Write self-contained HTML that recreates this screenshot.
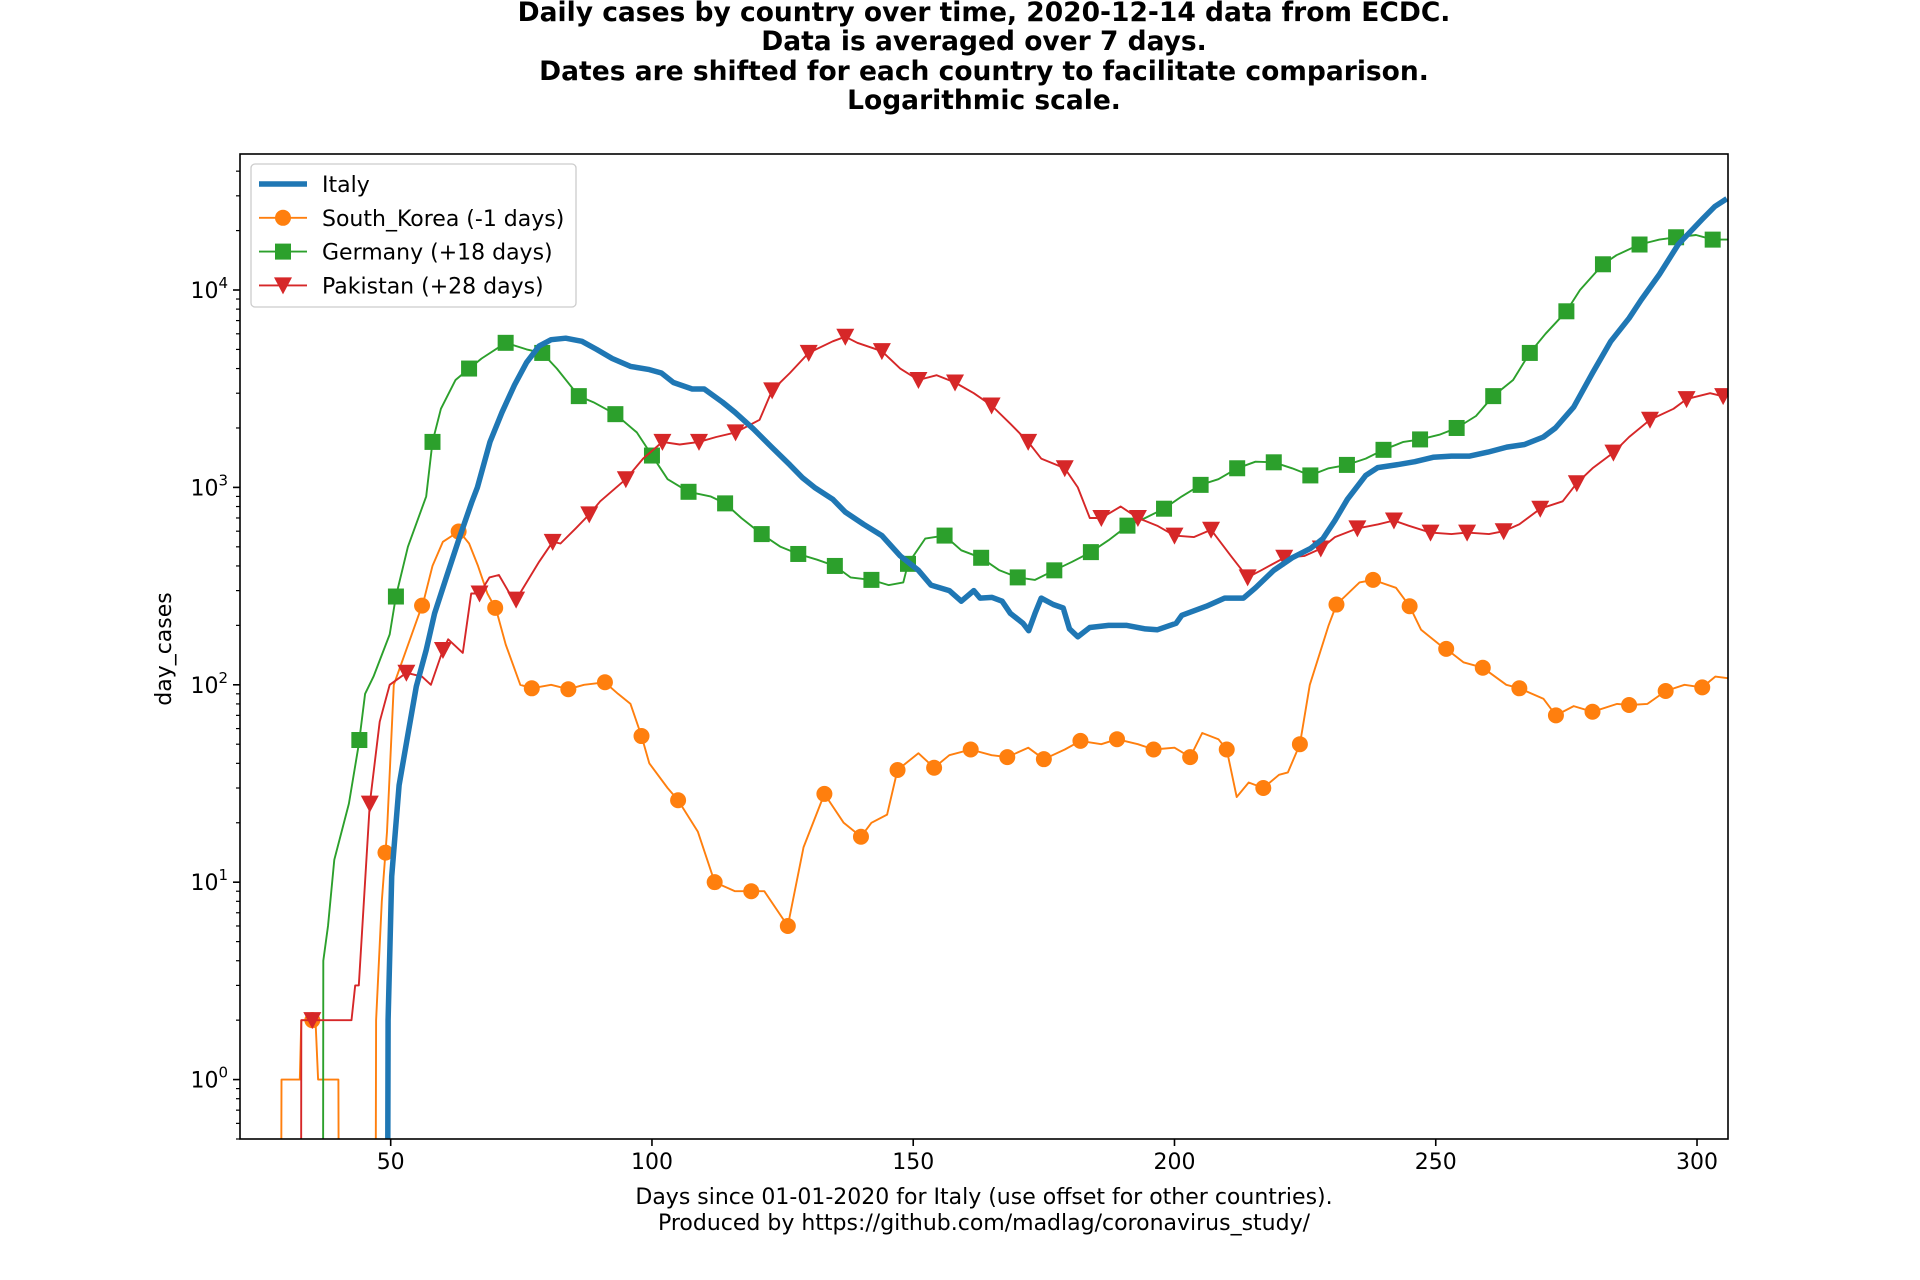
<!DOCTYPE html>
<html><head><meta charset="utf-8"><style>
html,body{margin:0;padding:0;background:#fff;overflow:hidden;width:1920px;height:1280px;}
svg{display:block;font-family:"DejaVu Sans","Liberation Sans",sans-serif;}
</style></head><body>
<svg id="chart" width="1920" height="1280" viewBox="0 0 1920 1280" xmlns="http://www.w3.org/2000/svg">
<rect width="1920" height="1280" fill="#fff"/>
<g font-weight="bold" font-size="26.5" text-anchor="middle" fill="#000">
<text x="984" y="21">Daily cases by country over time, 2020-12-14 data from ECDC.</text>
<text x="984" y="50">Data is averaged over 7 days.</text>
<text x="984" y="80">Dates are shifted for each country to facilitate comparison.</text>
<text x="984" y="109">Logarithmic scale.</text>
</g>
<defs><clipPath id="clip"><rect x="240" y="154" width="1488" height="985"/></clipPath></defs>
<g id="series" clip-path="url(#clip)"></g>
<g id="axes"></g>
<rect x="240" y="154" width="1488" height="985" fill="none" stroke="#000" stroke-width="1.6"/>
<g font-size="22" text-anchor="middle">
<text x="984" y="1204">Days since 01-01-2020 for Italy (use offset for other countries).</text>
<text x="984" y="1230">Produced by https://github.com/madlag/coronavirus_study/</text>
</g>
<text font-size="22" text-anchor="middle" transform="translate(171,649) rotate(-90)">day_cases</text>
<g id="legend">
<rect x="251" y="164" width="325" height="143" rx="4" fill="#fff" fill-opacity="0.8" stroke="#ccc" stroke-width="1.3"/>
</g>
</svg>
<script>
const xTicks = [50, 100, 150, 200, 250, 300];
const yTickExps = [0, 1, 2, 3, 4];
const italyDays = [49.3,49.5,50.2,51.6,53.3,54.9,56.8,58.4,60.8,63.1,65.5,66.6,69,71.3,73.7,76,78.4,80.7,83.5,86.6,89.4,92.4,95.9,99.5,101.8,104.1,107.7,110,113.5,115.9,119.4,122.9,126.4,128.8,131.1,134.6,137,140.5,144,147.5,151,153.4,156.9,159.2,161.6,162.8,165.1,167,168.6,171,172.1,173.3,174.5,176.8,178.7,179.9,181.5,183.8,187.4,190.9,194.4,196.7,200.3,201.4,206.1,209.6,213.2,215.5,219,222.5,226,228.4,230.7,233.1,236.6,238.9,242.4,246,249.5,253,256.5,260,263.6,267,270.6,272.9,276.4,280,283.5,287,289.3,292.8,296.4,301.1,303.4,305.7];
const italyVals = [0.01,2,10.7,31,56,98,150,230,360,550,840,1000,1700,2400,3300,4300,5200,5600,5700,5500,5000,4500,4100,3950,3800,3400,3150,3150,2700,2400,1980,1600,1300,1120,1000,870,750,650,570,450,380,320,300,265,300,275,277,265,230,205,188,230,275,255,245,192,175,195,200,200,192,190,205,225,250,275,275,310,380,440,490,550,680,870,1150,1260,1300,1350,1420,1440,1440,1510,1600,1650,1800,2000,2550,3800,5500,7200,8900,12000,17000,23000,26500,29000];
const koreaDays = [28.9,29.1,32.6,32.9,35.6,36.1,40.0,40.2,47.0,47.2,48.3,49.3,50.6,56.3,58,60,63.1,65,66.7,68.5,70.2,72,74.8,77,80.7,84,87,91,93.5,95.9,98,99.5,103,105,108.8,112,115.9,119,121.5,126,129,133,136.7,140,142,145,147,151,154,156.9,161,165,168,172,175,179,182,186,189,193,196,200,203,205.3,208.4,210,211.9,214.2,217,220,221.7,224,225.9,229.5,231,235.4,238,242.4,245,247.2,250.7,252,255.3,259,263.5,266,270.6,273,276.4,280,284.7,287,290.5,294,297.6,301,303.5,305.9];
const koreaVals = [0.01,1,1,2,2,1,1,0.01,0.01,2,8,18,100,265,400,530,600,520,400,290,240,160,100,96,100,95,100,103,90,80,55,40,30,26,18,10,9,9,9,6,15,28,20,17,20,22,37,45,38,44,47,44,43,48,42,47,52,50,53,50,47,48,43,57,53,47,27,32,30,35,36,50,100,200,255,330,340,310,250,190,160,152,130,122,100,96,85,70,78,73,80,79,80,93,100,97,110,108];
const germanyDays = [37,37.1,38,39.2,42,43.9,45.1,46.7,49.8,51,53.3,56.8,58,59.6,62.4,65,67.4,72,76,79,81.8,86,88.8,93,97.1,100,103,107,111.2,114,117.1,121,124.6,128,131.6,135,138,142,145.3,148.1,149,152.3,156,159.2,163,166.5,170,173.3,177,180.4,184,187.4,191,194.4,198,201.4,205,208.4,212,215.5,219,222.5,226,229.5,233,236.6,240,243.8,247,250.7,254,257.7,261,264.8,268,271,275,277.6,282,284.6,289,292.8,296,299.8,303,305.9];
const germanyVals = [0.01,4,6,13,25,50,90,110,180,280,500,900,1700,2500,3500,4000,4500,5400,5000,4800,4000,2900,2700,2350,1900,1450,1100,950,900,830,700,580,500,460,430,400,350,340,320,330,410,550,570,480,440,380,350,340,380,420,470,540,640,700,780,900,1030,1100,1250,1350,1340,1250,1150,1250,1300,1400,1550,1700,1750,1850,2000,2300,2900,3500,4800,6000,7800,10000,13500,15000,17000,18000,18500,19000,18000,18000];
const pakistanDays = [32.8,32.9,42.5,43.2,43.9,46,47.9,49.8,53,56,57.7,60,61,63.8,65.4,67,68.9,70.7,73.1,74,76,78.4,81,82.5,85.4,88,90.1,95,98.3,102,105.3,109,112.3,116,120.6,123,126.4,130,134.6,137,139.3,144,147.5,151,154.5,158,161.6,165,168.6,172,174.5,179,181.5,183.8,186,189.7,193,196.7,200,203.7,207,210.8,214,216.6,221,224.9,228,230.7,235,239,242,244.8,249,253,256,260.2,263,266,270,274.3,277,280,284,287,291,295.5,298,302.5,304.8];
const pakistanVals = [0.01,2,2,3,3,25,65,100,115,110,100,150,170,145,290,290,350,360,280,270,330,420,530,520,620,730,850,1100,1400,1700,1650,1700,1800,1900,2200,3100,3800,4800,5500,5800,5400,4900,4000,3500,3700,3400,3000,2600,2100,1700,1400,1250,1000,700,700,800,700,640,570,560,610,450,350,380,440,450,490,560,620,650,680,640,590,580,590,580,600,650,780,850,1050,1250,1500,1800,2200,2500,2800,3000,2900];
const koreaMarkerDays = [35,49,56,63,70,77,84,91,98,105,112,119,126,133,140,147,154,161,168,175,182,189,196,203,210,217,224,231,238,245,252,259,266,273,280,287,294,301];
const germanyMarkerDays = [37,44,51,58,65,72,79,86,93,100,107,114,121,128,135,142,149,156,163,170,177,184,191,198,205,212,219,226,233,240,247,254,261,268,275,282,289,296,303];
const pakistanMarkerDays = [35,46,53,60,67,74,81,88,95,102,109,116,123,130,137,144,151,158,165,172,179,186,193,200,207,214,221,228,235,242,249,256,263,270,277,284,291,298,305];

const NS = 'http://www.w3.org/2000/svg';
const L = 240, R = 1728, T = 154, B = 1139;
const X0 = 21.16, X1 = 305.93;
const Y0 = Math.log10(0.5), Y1 = 4.689;
function xs(d){ return L + (d - X0) / (X1 - X0) * (R - L); }
function ys(v){ return B - (Math.log10(Math.max(v,1e-3)) - Y0) / (Y1 - Y0) * (B - T); }
function mk(tag, attrs, parent){
  const e = document.createElementNS(NS, tag);
  for (const k in attrs) e.setAttribute(k, attrs[k]);
  parent.appendChild(e); return e;
}
function interp(days, vals, d){
  for (let i = 0; i < days.length - 1; i++){
    if (d >= days[i] && d <= days[i+1]){
      const t = (d - days[i]) / (days[i+1] - days[i] || 1);
      return Math.pow(10, Math.log10(vals[i]) * (1-t) + Math.log10(vals[i+1]) * t);
    }
  }
  return vals[vals.length-1];
}
const axes = document.getElementById('axes');
xTicks.forEach(t => {
  const g = mk('g', {}, axes);
  
  
  mk('line', {x1: xs(t), x2: xs(t), y1: B, y2: B + 7, stroke: '#000', 'stroke-width': 1.6}, g);
  const tx = mk('text', {x: xs(t), y: B + 30, 'font-size': 22, 'text-anchor': 'middle'}, g);
  tx.textContent = t;
});
yTickExps.forEach(e => {
  const g = mk('g', {}, axes);
  
  
  const y = ys(Math.pow(10, e));
  mk('line', {x1: L - 7, x2: L, y1: y, y2: y, stroke: '#000', 'stroke-width': 1.6}, g);
  const tx = mk('text', {x: L - 12, y: y + 8, 'font-size': 22, 'text-anchor': 'end'}, g);
  tx.innerHTML = '10<tspan dy="-10" font-size="15">' + e + '</tspan>';
});
for (let e = -1; e <= 4; e++){
  for (let m = 2; m <= 9; m++){
    const v = m * Math.pow(10, e);
    const y = ys(v);
    if (y < T || y > B) continue;
    const ln = mk('line', {x1: L - 4, x2: L, y1: y, y2: y, stroke: '#000', 'stroke-width': 1.2}, axes);
    
    
  }
}
const sg = document.getElementById('series');
function pathD(days, vals){ return days.map((d,i) => (i ? 'L' : 'M') + xs(d).toFixed(1) + ' ' + ys(vals[i]).toFixed(1)).join(''); }
function marker(type, x, y, color, parent){
  if (type === 'o') return mk('circle', {cx: x, cy: y, r: 8, fill: color}, parent);
  if (type === 's') return mk('rect', {x: x - 8, y: y - 8, width: 16, height: 16, fill: color}, parent);
  return mk('path', {d: 'M' + (x-9) + ' ' + (y-8) + 'L' + (x+9) + ' ' + (y-8) + 'L' + x + ' ' + (y+9) + 'Z', fill: color}, parent);
}
function drawSeries(name, days, vals, color, width, mtype, mdays){
  const g = mk('g', {}, sg);
  
  
  const p = mk('path', {d: pathD(days, vals), fill: 'none', stroke: color, 'stroke-width': width, 'stroke-linejoin': 'round'}, g);
  
  
  if (mtype) mdays.forEach(d => {
    const m = marker(mtype, xs(d), ys(interp(days, vals, d)), color, g);
    
    
  });
}
drawSeries('south-korea', koreaDays, koreaVals, '#ff7f0e', 1.9, 'o', koreaMarkerDays);
drawSeries('germany', germanyDays, germanyVals, '#2ca02c', 1.9, 's', germanyMarkerDays);
drawSeries('pakistan', pakistanDays, pakistanVals, '#d62728', 1.9, 'v', pakistanMarkerDays);
drawSeries('italy', italyDays, italyVals, '#1f77b4', 5.5, null, []);

const leg = document.getElementById('legend');
const entries = [['Italy','#1f77b4',null],['South_Korea (-1 days)','#ff7f0e','o'],['Germany (+18 days)','#2ca02c','s'],['Pakistan (+28 days)','#d62728','v']];
entries.forEach((en, i) => {
  const y = 184 + i * 33.8;
  const g = mk('g', {}, leg);
  
  
  mk('line', {x1: 259, x2: 307, y1: y, y2: y, stroke: en[1], 'stroke-width': en[2] ? 1.9 : 5.5}, g);
  if (en[2]) marker(en[2], 283, y, en[1], g);
  const t = mk('text', {x: 322, y: y + 8, 'font-size': 22}, g);
  t.textContent = en[0];
});
</script>
</body></html>
